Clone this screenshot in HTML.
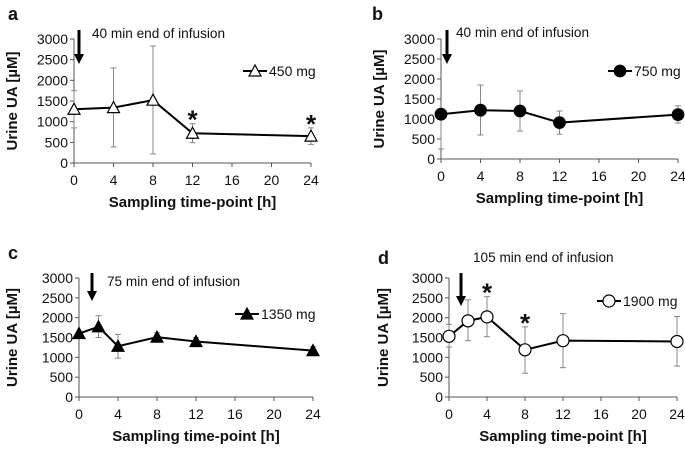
<!DOCTYPE html>
<html><head><meta charset="utf-8"><style>
body{margin:0;background:#fff;}
svg{display:block;font-family:"Liberation Sans",Arial,sans-serif;}
</style></head><body>
<svg id="chart" width="685" height="449" viewBox="0 0 685 449" xmlns="http://www.w3.org/2000/svg"></svg>
<script>
const xTicks=[0,4,8,12,16,20,24];
const yTicks=[0,500,1000,1500,2000,2500,3000];
const timesA=[0,4,8,12,24];
const valuesA=[1300,1340,1520,720,650];
const upperA=[1750,2300,2830,950,850];
const lowerA=[850,390,220,490,450];
const timesB=[0,4,8,12,24];
const valuesB=[1120,1220,1200,910,1110];
const upperB=[1120,1850,1700,1200,1330];
const lowerB=[250,600,700,620,900];
const timesC=[0,2,4,8,12,24];
const valuesC=[1600,1770,1280,1510,1400,1170];
const upperC=[1600,2050,1580,1620,1500,1270];
const lowerC=[1600,1500,980,1400,1300,1080];
const timesD=[0,2,4,8,12,24];
const valuesD=[1530,1920,2020,1190,1420,1400];
const upperD=[1830,2450,2530,1770,2100,2030];
const lowerD=[1260,1420,1520,600,740,780];
const starsA=[12,24];const starsD=[4,8];

const svg=document.getElementById('chart');
const NS='http://www.w3.org/2000/svg';
function mk(tag,attrs,parent,name){const e=document.createElementNS(NS,tag);for(const k in attrs)e.setAttribute(k,attrs[k]);


(parent||svg).appendChild(e);return e;}
function txt(x,y,s,parent,name,extra){const t=mk('text',Object.assign({x:x,y:y,'font-size':13,fill:'#111'},extra||{}),parent,name);t.textContent=s;return t;}

function marker(g,x,y,type,name){
 if(type==='tri-open'||type==='tri-fill'){
  mk('polygon',{points:`${x},${y-6} ${x-6},${y+5} ${x+6},${y+5}`,fill:type==='tri-fill'?'#000':'#fff',stroke:'#000','stroke-width':1.2},g,name);
 }else{
  mk('circle',{cx:x,cy:y,r:type==='circ-fill'?5.8:6,fill:type==='circ-fill'?'#000':'#fff',stroke:'#000','stroke-width':1.2},g,name);
 }
}

function panel(cfg){
 const g=mk('g',{},svg,'panel-'+cfg.letter);
 const {ax,y0,y3,x24}=cfg;
 const X=t=>ax+(x24-ax)*t/24;
 const Y=v=>y0-(y0-y3)*v/3000;
 txt(cfg.lx,cfg.ly,cfg.letter,g,'panel-label-'+cfg.letter,{'font-size':18,'font-weight':'bold'});
 mk('line',{x1:ax,y1:y0,x2:ax,y2:y3,stroke:'#555','stroke-width':1},g,'y-axis');
 mk('line',{x1:ax,y1:y0,x2:x24,y2:y0,stroke:'#555','stroke-width':1},g,'x-axis');
 yTicks.forEach(v=>{mk('line',{x1:ax-4,y1:Y(v),x2:ax,y2:Y(v),stroke:'#555'},g,'y-tick');
  txt(ax-6,Y(v)+5,String(v),g,'y-tick-label',{'text-anchor':'end','font-size':14});});
 xTicks.forEach(v=>{mk('line',{x1:X(v),y1:y0,x2:X(v),y2:y0+4,stroke:'#555'},g,'x-tick');
  txt(X(v),y0+22,String(v),g,'x-tick-label',{'text-anchor':'middle','font-size':14});});
 txt((ax+x24)/2,y0+44,'Sampling time-point [h]',g,'x-axis-title',{'text-anchor':'middle','font-size':15,'font-weight':'bold'});
 const ty=(y0+y3)/2;
 txt(cfg.ytx,ty,cfg.ytitle,g,'y-axis-title',{'text-anchor':'middle','font-size':15,'font-weight':'bold',transform:`rotate(-90 ${cfg.ytx} ${ty})`});
 cfg.t.forEach((t,i)=>{const x=X(t);
  mk('line',{x1:x,y1:Y(cfg.up[i]),x2:x,y2:Y(cfg.lo[i]),stroke:'#888','stroke-width':1},g,'error-bar');
  mk('line',{x1:x-3,y1:Y(cfg.up[i]),x2:x+3,y2:Y(cfg.up[i]),stroke:'#888'},g,'error-cap');
  mk('line',{x1:x-3,y1:Y(cfg.lo[i]),x2:x+3,y2:Y(cfg.lo[i]),stroke:'#888'},g,'error-cap');});
 mk('polyline',{points:cfg.t.map((t,i)=>`${X(t)},${Y(cfg.v[i])}`).join(' '),fill:'none',stroke:'#000','stroke-width':2},g,'series-line');
 cfg.t.forEach((t,i)=>marker(g,X(t),Y(cfg.v[i]),cfg.m,'data-point'));
 (cfg.stars||[]).forEach(s=>{const i=cfg.t.indexOf(s);
  txt(X(s),Y(cfg.up[i])+5,'*',g,'significance-star',{'text-anchor':'middle','font-size':26,'font-weight':'bold'});});
 mk('line',{x1:cfg.arx,y1:cfg.ary1,x2:cfg.arx,y2:cfg.ary2-8,stroke:'#000','stroke-width':3},g,'infusion-arrow');
 mk('polygon',{points:`${cfg.arx-5},${cfg.ary2-10} ${cfg.arx+5},${cfg.ary2-10} ${cfg.arx},${cfg.ary2}`,fill:'#000'},g,'infusion-arrowhead');
 txt(cfg.anx,cfg.any,cfg.ann,g,'infusion-annotation',{'font-size':13.6});
 mk('line',{x1:cfg.lgx,y1:cfg.lgy,x2:cfg.lgx+24,y2:cfg.lgy,stroke:'#000','stroke-width':2},g,'legend-line');
 marker(g,cfg.lgx+12,cfg.lgy,cfg.m,'legend-marker');
 txt(cfg.lgx+26,cfg.lgy+5,cfg.leg,g,'legend-label',{'font-size':14});
}
panel({letter:'a',lx:8,ly:20,ax:74,y0:163,y3:39,x24:311,ytx:17,ytitle:'Urine UA  [µM]',t:timesA,v:valuesA,up:upperA,lo:lowerA,m:'tri-open',stars:starsA,arx:79,ary1:30,ary2:64,anx:92,any:38,ann:'40 min end of infusion',lgx:243,lgy:71,leg:'450 mg'});
panel({letter:'b',lx:372,ly:20,ax:441,y0:159,y3:39,x24:678,ytx:384,ytitle:'Urine UA  [µM]',t:timesB,v:valuesB,up:upperB,lo:lowerB,m:'circ-fill',arx:447,ary1:30,ary2:64,anx:456,any:37,ann:'40 min end of infusion',lgx:608,lgy:71,leg:'750 mg'});
panel({letter:'c',lx:8,ly:259,ax:79,y0:397,y3:278,x24:313,ytx:17,ytitle:'Urine UA [µM]',t:timesC,v:valuesC,up:upperC,lo:lowerC,m:'tri-fill',arx:92,ary1:273,ary2:301,anx:107,any:286,ann:'75 min end of infusion',lgx:235,lgy:314,leg:'1350 mg'});
panel({letter:'d',lx:378,ly:264,ax:449,y0:397,y3:278,x24:677,ytx:388,ytitle:'Urine UA [µM]',t:timesD,v:valuesD,up:upperD,lo:lowerD,m:'circ-open',stars:starsD,arx:461,ary1:273,ary2:306,anx:473,any:262,ann:'105 min end of infusion',lgx:597,lgy:301,leg:'1900 mg'});
</script>
</body></html>
